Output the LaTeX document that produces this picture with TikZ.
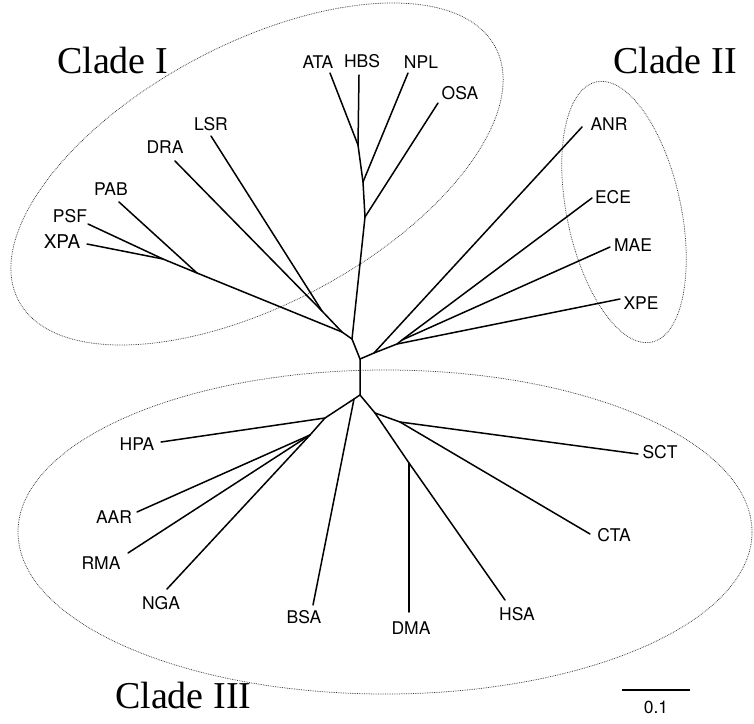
\documentclass[tikz,border=0pt]{standalone}
\usepackage{fontspec}
\setmainfont{Liberation Serif}
\newfontfamily\labfont{TeX Gyre Heros}
\begin{document}
\begin{tikzpicture}[x=1pt,y=-1pt,
  br/.style={line width=1.5pt, line cap=round, line join=round},
  lab/.style={font=\labfont\fontsize{17.5}{17.5}\selectfont, inner sep=0pt},
  cladetxt/.style={font=\fontsize{38}{38}\selectfont, inner sep=0pt},
  hull/.style={densely dotted, line width=0.75pt, black!80}]
\useasboundingbox (0,0) rectangle (754,723);

% hulls
\draw[hull, rotate around={28:(257,174)}] (257,174) ellipse [x radius=270, y radius=130];
\draw[hull, rotate around={12:(624,212)}] (624,212) ellipse [x radius=57, y radius=133];
\draw[hull] (385,532) ellipse [x radius=367, y radius=162];

% clade titles
\node[cladetxt, anchor=base west] (c1) at (57,73) {Clade I};
\node[cladetxt, anchor=base west] (c2) at (613,73) {Clade II};
\node[cladetxt, anchor=base west] (c3) at (115,708) {Clade III};

% junctions
\coordinate (J5) at (358,145);
\coordinate (J6) at (363,182);
\coordinate (J7) at (365,217);
\coordinate (A) at (352,339);
\coordinate (J1) at (342,332);
\coordinate (J2) at (322,311);
\coordinate (J3) at (197,273);
\coordinate (J4) at (163,259);
\coordinate (B) at (360,359);
\coordinate (C) at (360,395);
\coordinate (D) at (374,353);
\coordinate (E) at (397,344);
\coordinate (F) at (402,340);
\coordinate (G) at (354,399);
\coordinate (H) at (325,418);
\coordinate (I) at (310,435);
\coordinate (K) at (375,413);
\coordinate (M) at (400,422);
\coordinate (L) at (409,463);

% tips
\coordinate (tATA) at (330,73);
\coordinate (tHBS) at (359,75);
\coordinate (tNPL) at (408,73);
\coordinate (tOSA) at (438,103);
\coordinate (tLSR) at (211,136);
\coordinate (tDRA) at (175,161);
\coordinate (tPAB) at (119,202);
\coordinate (tPSF) at (88,224);
\coordinate (tXPA) at (87,244);
\coordinate (tANR) at (582,127);
\coordinate (tECE) at (592,198);
\coordinate (tMAE) at (610,247);
\coordinate (tXPE) at (620,299);
\coordinate (tHPA) at (161,442);
\coordinate (tAAR) at (137,512);
\coordinate (tRMA) at (128,553);
\coordinate (tNGA) at (167,589);
\coordinate (tBSA) at (313,605);
\coordinate (tDMA) at (409,612);
\coordinate (tHSA) at (505,600);
\coordinate (tCTA) at (590,534);
\coordinate (tSCT) at (638,454);

% labels
\node[lab] (ATA) at (318,62) {ATA};
\node[lab] (HBS) at (362,61) {HBS};
\node[lab] (NPL) at (421,62) {NPL};
\node[lab] (OSA) at (460,93) {OSA};
\node[lab] (LSR) at (211,124) {LSR};
\node[lab] (DRA) at (165,147) {DRA};
\node[lab] (PAB) at (111,189) {PAB};
\node[lab] (PSF) at (70,216) {PSF};
\node[lab, font=\labfont\fontsize{19}{19}\selectfont] (XPA) at (62,242) {XPA};
\node[lab] (ANR) at (609,124) {ANR};
\node[lab] (ECE) at (613,197) {ECE};
\node[lab] (MAE) at (633,245) {MAE};
\node[lab] (XPE) at (641,303) {XPE};
\node[lab] (HPA) at (137,444) {HPA};
\node[lab] (AAR) at (114,517) {AAR};
\node[lab] (RMA) at (101,563) {RMA};
\node[lab] (NGA) at (161,603) {NGA};
\node[lab] (BSA) at (304,617) {BSA};
\node[lab] (DMA) at (411,628) {DMA};
\node[lab] (HSA) at (517,614) {HSA};
\node[lab] (CTA) at (614,535) {CTA};
\node[lab] (SCT) at (660,452) {SCT};

% branches: clade I upper
\draw[br] (tATA) -- (J5);
\draw[br] (tHBS) -- (J5);
\draw[br] (J5) -- (J6) -- (J7) -- (A);
\draw[br] (tNPL) -- (J6);
\draw[br] (tOSA) -- (J7);
% clade I left
\draw[br] (A) -- (J1) -- (J2) -- (tDRA);
\draw[br] (J2) -- (tLSR);
\draw[br] (J1) -- (J3) -- (tPAB);
\draw[br] (J3) -- (J4) -- (tPSF);
\draw[br] (J4) -- (tXPA);
% centre
\draw[br] (A) -- (B) -- (C);
\draw[br] (B) -- (D) -- (tANR);
\draw[br] (D) -- (E) -- (tXPE);
\draw[br] (E) -- (F) -- (tECE);
\draw[br] (F) -- (tMAE);
% clade III
\draw[br] (C) -- (G) -- (H) -- (I);
\draw[br] (G) -- (tBSA);
\draw[br] (H) -- (tHPA);
\draw[br] (I) -- (tAAR);
\draw[br] (I) -- (tRMA);
\draw[br] (I) -- (tNGA);
\draw[br] (C) -- (K) -- (L) -- (tHSA);
\draw[br] (L) -- (tDMA);
\draw[br] (K) -- (M) -- (tSCT);
\draw[br] (M) -- (tCTA);

% scale bar
\coordinate (s1) at (622,690);
\coordinate (s2) at (690,690);
\draw[line width=1.3pt] (s1) -- (s2);
\node[lab] (scale) at (656,707) {0.1};
\end{tikzpicture}
\end{document}
